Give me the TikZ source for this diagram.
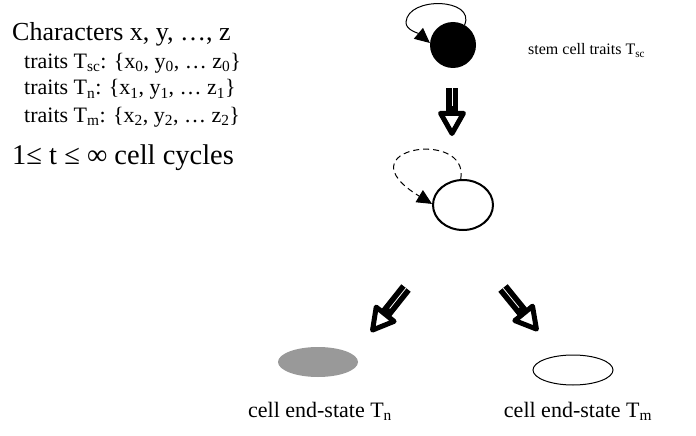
\documentclass[tikz,border=0pt]{standalone}
\usepackage{fontspec}
\setmainfont{Liberation Serif}
\usetikzlibrary{shapes.geometric,arrows.meta,positioning,calc}
\definecolor{cellgrey}{RGB}{153,153,153}
\newcommand{\sbs}[1]{\textsubscript{#1}}

\begin{document}
\begin{tikzpicture}[
    x=1pt, y=-1pt,
    txt/.style={anchor=base west, inner sep=0pt, font=\fontsize{26pt}{30pt}\selectfont},
    trait/.style={txt, font=\fontsize{22pt}{26pt}\selectfont},
    lbl/.style={anchor=base, inner sep=0pt, font=\fontsize{22pt}{26pt}\selectfont},
    cellring/.style={ellipse, draw=black, line width=2pt, inner sep=0pt},
    endcell/.style={ellipse, minimum width=80pt, minimum height=30pt, inner sep=0pt},
    loopline/.style={line width=1pt, -{Triangle[length=15pt, width=14pt]}},
    fat/.style={line width=12pt, -{Triangle[open, length=28pt, width=30pt, line width=5pt, round]},
        postaction={draw=white, line width=0.8pt, shorten >=30pt, -}}
]
    \useasboundingbox (0,0) rectangle (696,436);

    % legend of characters
    \node[txt] (chars) at (12,41) {Characters x, y, …, z};
    \node[trait] (trsc) at (24,68) {traits T\sbs{sc}: \{x\sbs{0}, y\sbs{0}, … z\sbs{0}\}};
    \node[trait] (trn) at (24,95) {traits T\sbs{n}: \{x\sbs{1}, y\sbs{1}, … z\sbs{1}\}};
    \node[trait] (trm) at (24,122) {traits T\sbs{m}: \{x\sbs{2}, y\sbs{2}, … z\sbs{2}\}};
    \node[txt, font=\fontsize{28.5pt}{32pt}\selectfont] (cycles) at (12,164) {1≤ t ≤ ∞ cell cycles};

    % cells
    \node[circle, fill=black, minimum size=46pt, inner sep=0pt] (stem) at (453,45) {};
    \node[cellring, minimum width=60pt, minimum height=50pt] (prog) at (463,205) {};
    \node[endcell, fill=cellgrey] (endn) at (318,362) {};
    \node[endcell, draw=black, line width=1pt] (endm) at (573,370) {};

    \node[lbl, anchor=base west, font=\fontsize{16pt}{19pt}\selectfont] (lblstem) at (528,55) {stem cell traits T\sbs{sc}};
    \node[lbl] (lbln) at (320,417) {cell end-state T\sbs{n}};
    \node[lbl] (lblm) at (578,417) {cell end-state T\sbs{m}};

    % self renewal loops
    \draw[loopline] (stem.60) .. controls (476,-2) and (408,-4) .. (406,22)
        .. controls (405.5,30) and (418,33) .. (stem.175);
    \draw[loopline, dashed, dash pattern=on 6pt off 4pt] (prog.95) .. controls (470,128) and (340,148) .. (prog.178);

    % differentiation arrows
    \coordinate (f1a) at (452,88);
    \coordinate (f1b) at (452,136);
    \coordinate (f2a) at (406,288);
    \coordinate (f2b) at (371,332);
    \coordinate (f3a) at (503,288);
    \coordinate (f3b) at (538,331);
    \draw[fat] (f1a) -- (f1b);
    \draw[fat] (f2a) -- (f2b);
    \draw[fat] (f3a) -- (f3b);
\end{tikzpicture}
\end{document}
